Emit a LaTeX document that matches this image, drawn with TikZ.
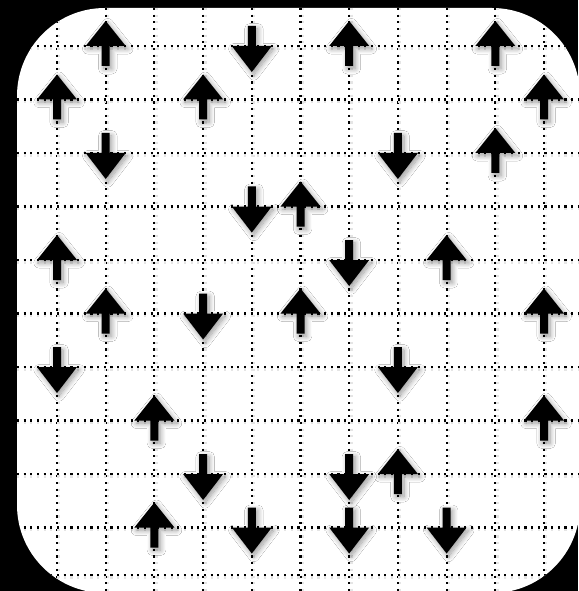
\documentclass[tikz,border=0pt]{standalone}
\usepackage{tikz}
\usetikzlibrary{shadows.blur}
\tikzset{
  spinarrow/.style={fill=black,
    blur shadow={shadow xshift=1.2pt,shadow yshift=-1.6pt,shadow blur steps=12,
                 shadow blur radius=3pt,shadow opacity=40}},
  gridline/.style={line width=1.2pt,dash pattern=on 1.2pt off 2.6pt},
  gridshade/.style={gridline,black!10,line width=2.2pt},
  pics/spinup/.style={code={
    \path[spinarrow] (-4,20) -- (-4,0) -- (-20,0) -- (0,-25) -- (20,0) -- (4,0) -- (4,20) -- cycle;}},
  pics/spindown/.style={code={
    \path[spinarrow] (-4,-20) -- (-4,0) -- (-20,0) -- (0,26) -- (20,0) -- (4,0) -- (4,-20) -- cycle;}}
}

\begin{document}
\begin{tikzpicture}[x=0.02cm,y=-0.02cm]
  % ---- black frame and white sheet ----
  \fill[black] (0,0) rectangle (578,591);
  \useasboundingbox (0,0) rectangle (578,591);
  \fill[white,rounded corners=1.76cm] (17,8) rectangle (580,593);
  % ---- dotted lattice ----
  \begin{scope}
    \clip[rounded corners=1.76cm] (17,8) rectangle (580,593);
    \foreach \gx in {57,105.7,154.4,203.1,251.8,300.5,349.2,397.9,446.6,495.3,544}{
      \draw[gridshade] (\gx+1.5,8) -- (\gx+1.5,593);
      \draw[gridline] (\gx,8) -- (\gx,593);
    }
    \foreach \gy in {46,99.5,153,206.5,260,313.5,367,420.5,474,527.5,575}{
      \draw[gridshade] (17,\gy+2) -- (580,\gy+2);
      \draw[gridline] (17,\gy) -- (580,\gy);
    }
  \end{scope}
  % ---- spins pointing up (column/row) ----
  \foreach \c/\r in {1/0,6/0,9/0,0/1,3/1,10/1,9/2,5/3,0/4,8/4,1/5,5/5,10/5,2/7,10/7,7/8,2/9}
    \pic at ({57+48.7*\c},{46+53.5*\r}) {spinup};
  % ---- spins pointing down ----
  \foreach \c/\r in {4/0,1/2,7/2,4/3,6/4,3/5,0/6,7/6,3/8,6/8,4/9,6/9,8/9}
    \pic at ({57+48.7*\c},{46+53.5*\r}) {spindown};
\end{tikzpicture}
\end{document}
